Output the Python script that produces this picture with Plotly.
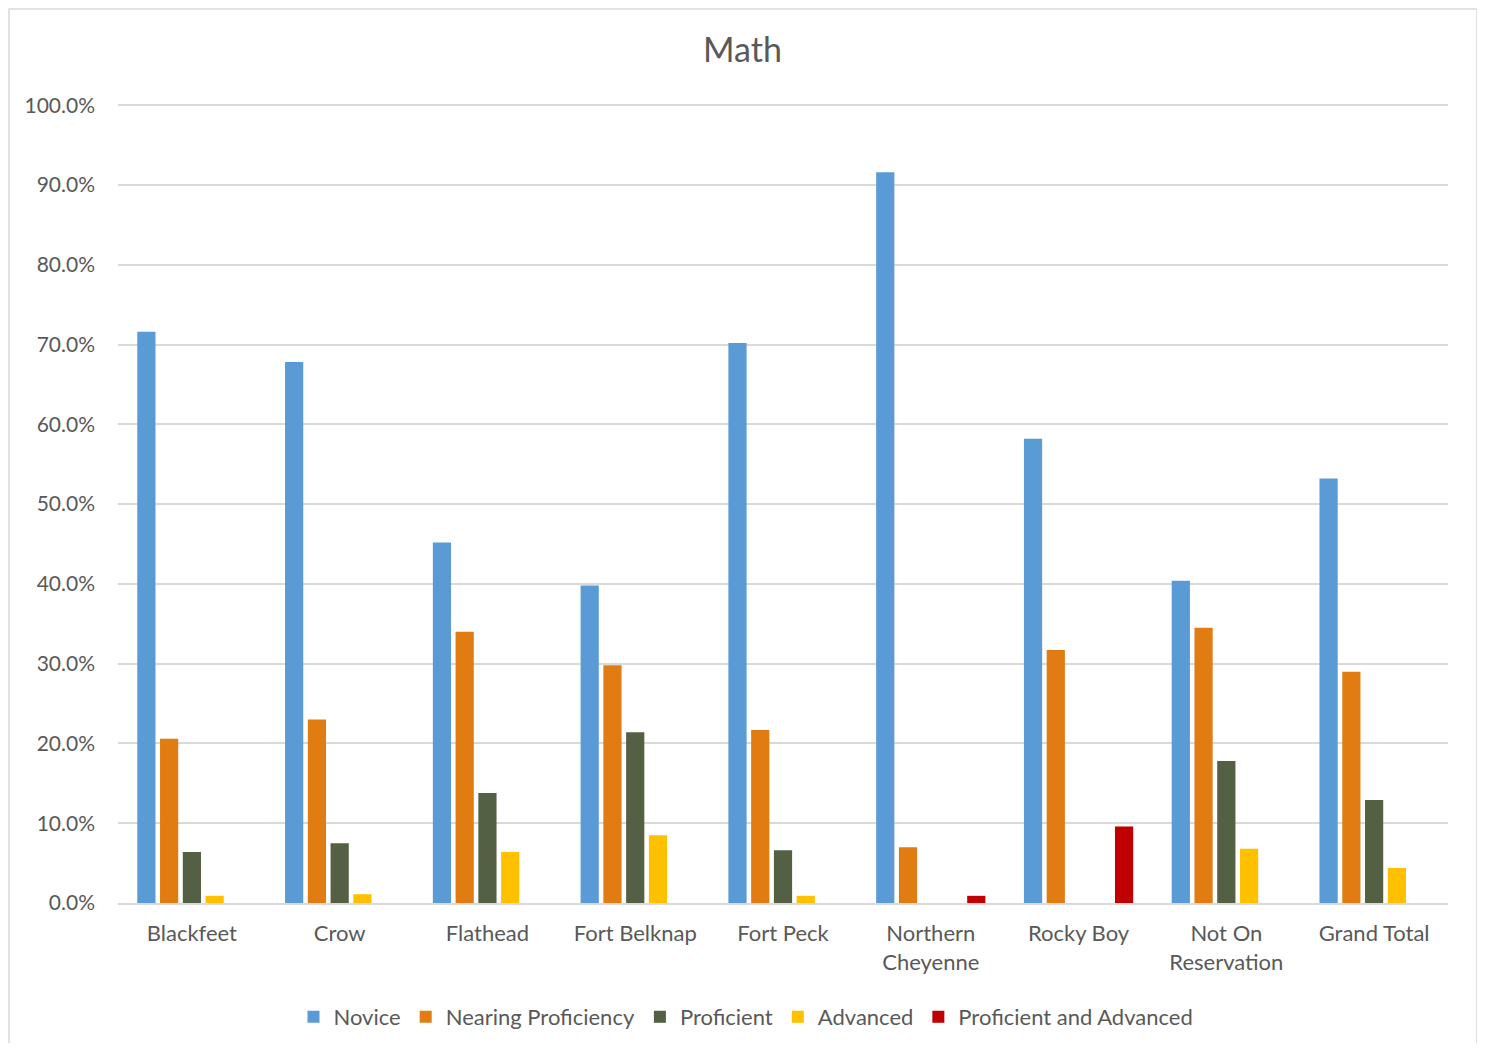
import plotly.graph_objects as go

categories = ["Blackfeet", "Crow", "Flathead", "Fort Belknap", "Fort Peck",
              "Northern<br>Cheyenne", "Rocky Boy", "Not On<br>Reservation", "Grand Total"]

novice = [0.716, 0.678, 0.452, 0.398, 0.702, 0.916, 0.582, 0.404, 0.532]
nearing = [0.206, 0.230, 0.340, 0.298, 0.217, 0.070, 0.317, 0.345, 0.290]
proficient = [0.064, 0.075, 0.138, 0.214, 0.066, None, None, 0.178, 0.129]
advanced = [0.009, 0.011, 0.064, 0.085, 0.009, None, None, 0.068, 0.044]
prof_adv = [None, None, None, None, None, 0.009, 0.096, None, None]

series = [
    ("Novice", novice, "#5B9BD5"),
    ("Nearing Proficiency", nearing, "#E07C12"),
    ("Proficient", proficient, "#546043"),
    ("Advanced", advanced, "#FFC000"),
    ("Proficient and Advanced", prof_adv, "#C00000"),
]

fig = go.Figure()
for name, vals, color in series:
    fig.add_trace(go.Bar(name=name, x=categories, y=vals, marker_color=color,
                         marker_line_width=0))

font_family = "Lato, 'Open Sans', sans-serif"
text_color = "#595959"

# page body has an 8px margin; work in figure coordinates = page - 8
OFF = 8
W, H = 1469, 1035
L, T = 118 - OFF, 104 - OFF
R = W - (1448 - OFF)
B = H - (903 - OFF)

fig.update_layout(
    width=W, height=H,
    margin=dict(l=L, r=R, t=T, b=B, autoexpand=False),
    paper_bgcolor="white", plot_bgcolor="white",
    barmode="group", bargap=0.23, bargroupgap=0.2,
    font=dict(family=font_family, color=text_color, size=21),
    title=dict(text="Math", x=0.5, xanchor="center", xref="container",
               y=1 - (50 - OFF) / H, yanchor="middle", yref="container",
               font=dict(size=34, color=text_color, family=font_family)),
    legend=dict(orientation="h", x=(746 - OFF) / W, xanchor="center", xref="container",
                y=1 - (1017 - OFF) / H, yanchor="middle", yref="container",
                font=dict(size=22, color=text_color), itemwidth=30,
                traceorder="normal"),
    yaxis=dict(range=[0, 1.0015], tickvals=[i / 10 for i in range(11)], tickformat=".1%",
               showgrid=True, gridcolor="#D9D9D9", gridwidth=1.5, zeroline=False,
               showline=False, ticks="", ticklabelstandoff=22, automargin=False,
               tickfont=dict(size=21, color=text_color)),
    xaxis=dict(showline=True, linecolor="#D9D9D9", linewidth=2, ticks="", automargin=False,
               tickfont=dict(size=22, color=text_color), ticklabelstandoff=10),
    shapes=[dict(type="rect", xref="paper", yref="paper",
                 x0=-(L - 1) / (W - L - R), x1=1 + (1477 - 1448) / (W - L - R),
                 y0=-(B + 5) / (H - T - B), y1=1 + (T - 1) / (H - T - B),
                 line=dict(color="#D9D9D9", width=1.5), fillcolor="rgba(0,0,0,0)",
                 layer="below")],
)

fig.write_html("out.html")
